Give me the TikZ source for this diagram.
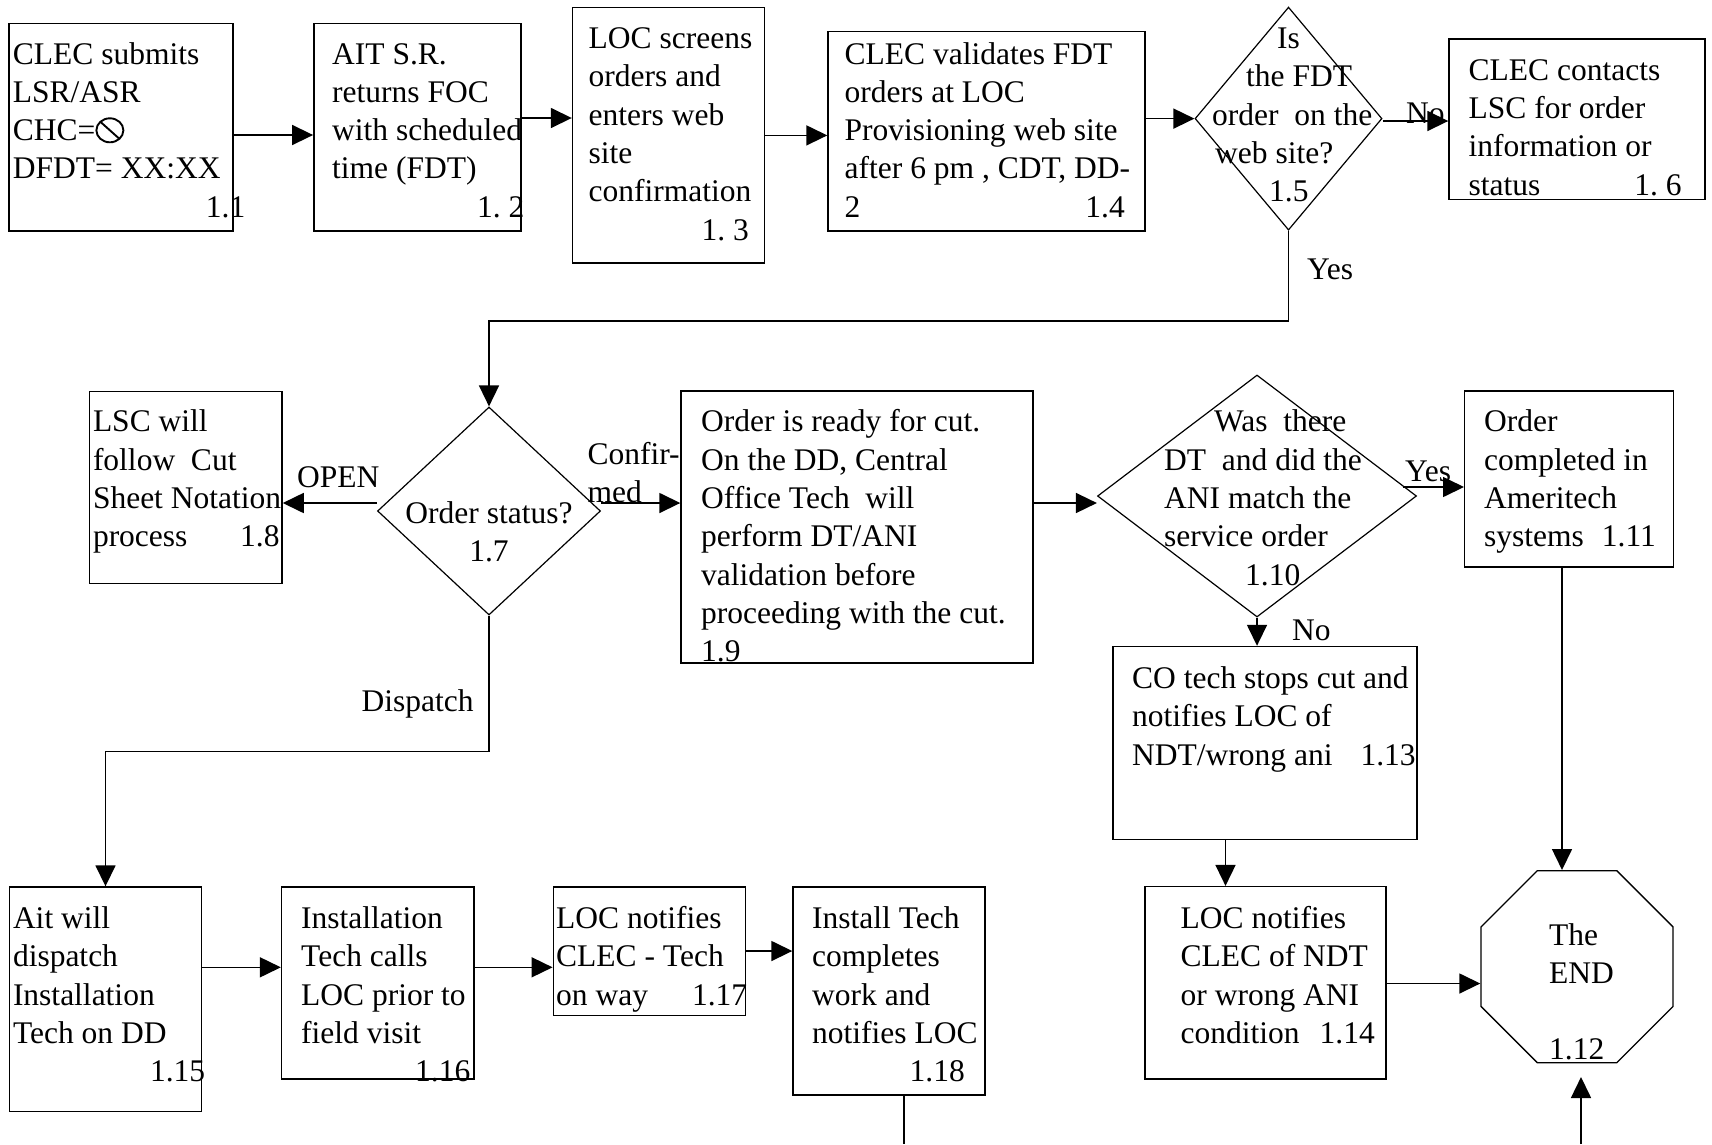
\documentclass[tikz,border=0pt]{standalone}
\usepackage{fontspec}
\setmainfont{Liberation Serif}
\usetikzlibrary{arrows.meta,shapes.geometric}
\newcommand{\fsz}{\fontsize{31.5}{38.3}\selectfont}
\newcommand{\TxL}[1]{\begin{tabular}[t]{@{}l@{}}#1\end{tabular}}
\newcommand{\TxC}[1]{\begin{tabular}[t]{@{}c@{}}#1\end{tabular}}
\newcommand{\cslash}{\tikz[x=1pt,y=1pt,baseline=0pt]{\draw[line width=1.9pt] (14.5,10.3) ellipse (13.5 and 12); \draw[line width=1.9pt] (5,18.8)--(24,1.8);}}
\begin{document}
\begin{tikzpicture}[x=1pt,y=-1pt,
  box/.style={draw, line width=1.4pt, inner sep=0pt, rectangle},
  dia/.style={draw, line width=1.2pt, diamond, inner sep=0pt},
  txt/.style={inner sep=0pt, anchor=base west, font=\fsz},
  txc/.style={inner sep=0pt, anchor=base, font=\fsz},
  ln/.style={line width=1.6pt},
  arr/.style={line width=1.6pt, -{Triangle[length=21pt,width=20pt]}}]
\useasboundingbox (0,0) rectangle (1712,1144);

% ---------- row 1 ----------
\node[box, minimum width=224pt, minimum height=207.7pt] (b11) at (121,127.2) {};
\node[txt] (t11) at (12.7,64) {\TxL{CLEC submits\\LSR/ASR\\CHC=\cslash\\DFDT= XX:XX\\\hspace*{193pt}1.1}};

\node[box, minimum width=207.2pt, minimum height=207.7pt] (b12) at (417.4,127.2) {};
\node[txt] (t12) at (332,64) {\TxL{AIT S.R.\\returns FOC\\with scheduled\\time (FDT)\\\hspace*{145pt}1.\ 2}};

\node[box, minimum width=192pt, minimum height=255.5pt] (b13) at (668.5,135.3) {};
\node[txt] (t13) at (588.5,48.6) {\TxL{LOC screens\\orders and\\enters web\\site\\confirmation\\\hspace*{113pt}1.\ 3}};

\node[box, minimum width=317pt, minimum height=199.3pt] (b14) at (986.5,131.4) {};
\node[txt] (t14) at (844.5,64) {\TxL{CLEC validates FDT\\orders at LOC\\Provisioning web site\\after 6 pm , CDT, DD-\\2\hspace*{225pt}1.4}};

\node[dia, minimum width=187pt, minimum height=223pt] (d15) at (1288.5,118.6) {};
\node[txt] (t15) at (1212,48.6) {\TxL{\hspace*{65pt}Is\\\hspace*{34pt}the FDT\\order\ \ on the\\\hspace*{3pt}web site?\\\hspace*{57pt}1.5}};

\node[box, minimum width=256pt, minimum height=160.3pt] (b16) at (1577,119.2) {};
\node[txt] (t16) at (1468.5,80.3) {\TxL{CLEC contacts\\LSC for order\\information or\\status\hspace*{94pt}1.\ 6}};

\node[txt] (lno1) at (1406,123) {No};
\node[txt] (lyes1) at (1307,279) {Yes};

% ---------- row 2 ----------
\node[box, minimum width=192.7pt, minimum height=191.6pt] (b18) at (185.7,487.5) {};
\node[txt] (t18) at (92.8,431.8) {\TxL{LSC will\\follow\ \ Cut\\Sheet Notation\\process\hspace*{52.7pt}1.8}};

\node[dia, minimum width=223pt, minimum height=208pt] (d17) at (489,511) {};
\node[txc] (t17) at (489,523.6) {\TxC{Order status?\\1.7}};

\node[txt] (lopen) at (297,487.5) {OPEN};
\node[txt] (lconf) at (587.4,464.6) {\TxL{Confir-\\med}};

\node[box, minimum width=352pt, minimum height=272pt] (b19) at (857,527) {};
\node[txt] (t19) at (701,431.8) {\TxL{Order is ready for cut.\\On the DD, Central\\Office Tech\ \ will\\perform DT/ANI\\validation before\\proceeding with the cut.\\1.9}};

\node[dia, minimum width=319pt, minimum height=242pt] (d110) at (1257,496) {};
\node[txt] (t110) at (1164,431.8) {\TxL{\hspace*{50pt}Was\ \ there\\DT\ \ and did the\\ANI match the\\service order\\\hspace*{81pt}1.10}};

\node[txt] (lyes2) at (1405,481) {Yes};

\node[box, minimum width=209pt, minimum height=176pt] (b111) at (1569.2,479) {};
\node[txt] (t111) at (1484,431.8) {\TxL{Order\\completed in\\Ameritech\\systems\hspace*{18pt}1.11}};

\node[txt] (lno2) at (1292,640.4) {No};

\node[box, minimum width=304pt, minimum height=193pt] (b113) at (1265,743) {};
\node[txt] (t113) at (1132,688.4) {\TxL{CO tech stops cut and\\notifies LOC of\\NDT/wrong ani\hspace*{28pt}1.13}};

\node[txt] (ldisp) at (361.4,711) {Dispatch};

% ---------- row 3 ----------
\node[box, minimum width=192.5pt, minimum height=224.6pt] (b115) at (105.5,999.3) {};
\node[txt] (t115) at (12.8,928.6) {\TxL{Ait will\\dispatch\\Installation\\Tech on DD\\\hspace*{137pt}1.15}};

\node[box, minimum width=192.5pt, minimum height=192pt] (b116) at (377.8,983) {};
\node[txt] (t116) at (301,928.6) {\TxL{Installation\\Tech calls\\LOC prior to\\field visit\\\hspace*{114pt}1.16}};

\node[box, minimum width=192.3pt, minimum height=128.2pt] (b117) at (649.4,951.1) {};
\node[txt] (t117) at (556,928.6) {\TxL{LOC notifies\\CLEC - Tech\\on way\hspace*{44pt}1.17}};

\node[box, minimum width=192pt, minimum height=208pt] (b118) at (889,991) {};
\node[txt] (t118) at (812,928.6) {\TxL{Install Tech\\completes\\work and\\notifies LOC\\\hspace*{97.5pt}1.18}};

\node[box, minimum width=241pt, minimum height=192.4pt] (b114) at (1265.5,982.8) {};
\node[txt] (t114) at (1180.5,928.6) {\TxL{LOC notifies\\CLEC of NDT\\or wrong ANI\\condition\hspace*{20pt}1.14}};

\node[draw, line width=1.4pt, regular polygon, regular polygon sides=8, inner sep=0pt, minimum size=207.8pt] (o112) at (1577,966.7) {};
\node[txt] (t112) at (1549,945) {\TxL{The\\END\\ \\1.12}};

\coordinate (out18) at (904,1144);
\coordinate (inEnd) at (1581,1144);
\coordinate (tipEnd) at (1581,1077);

% ---------- connectors ----------
\draw[arr] (b11.east |- 0,135) -- (b12.west |- 0,135);
\draw[arr] (b12.east |- 0,118) -- (b13.west |- 0,118);
\draw[arr] (b13.east |- 0,135.4) -- (b14.west |- 0,135.4);
\draw[arr] (b14.east |- d15.west) -- (d15.west);
\draw[arr] (d15.east |- 0,121) -- (b16.west |- 0,121);
\draw[arr] (d15.south) -- ++(0,90) -| (d17.north);
\draw[arr] (d17.west |- 0,503) -- (b18.east |- 0,503);
\draw[arr] (d17.east |- 0,503) -- (b19.west |- 0,503);
\draw[arr] (b19.east |- 0,503) -- (d110.west |- 0,503);
\draw[arr] (d110.east |- 0,487) ++(-14,0) -- (b111.west |- 0,487);
\draw[arr] (d110.south) -- (d110.south |- b113.north);
\draw[arr] (b111.south -| 1562,0) -- (o112.north -| 1562,0);
\draw[arr] (b113.south -| 1225.5,0) -- (b114.north -| 1225.5,0);
\draw[arr] (b114.east |- 0,983.5) -- (o112.west |- 0,983.5);
\draw[arr] (d17.south) -- ++(0,136) -| (b115.north);
\draw[arr] (b115.east |- 0,967.3) -- (b116.west |- 0,967.3);
\draw[arr] (b116.east |- 0,967.3) -- (b117.west |- 0,967.3);
\draw[arr] (b117.east |- 0,951) -- (b118.west |- 0,951);
\draw[ln] (b118.south -| 904,0) -- (out18);
\draw[arr] (inEnd) -- (tipEnd);
\end{tikzpicture}
\end{document}
